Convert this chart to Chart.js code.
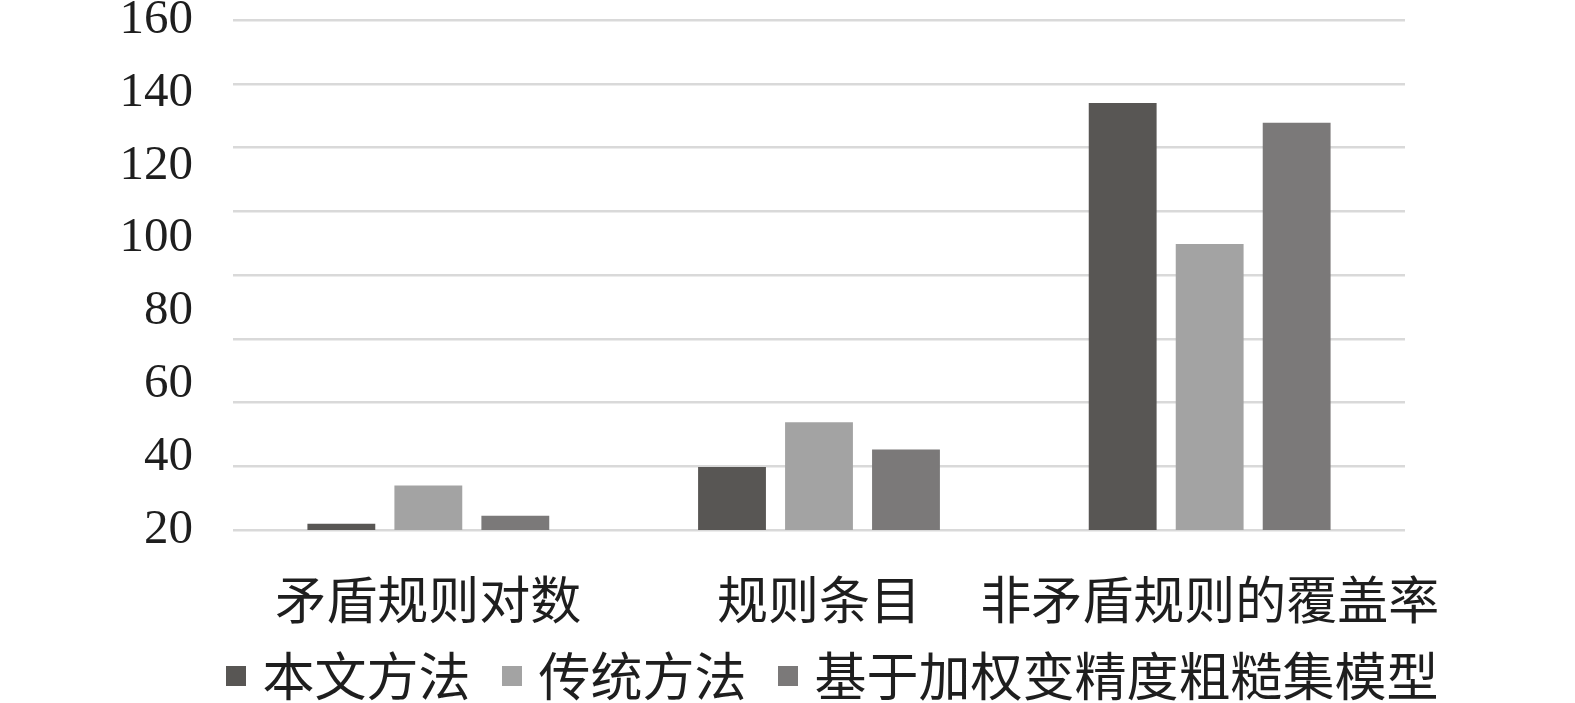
<!DOCTYPE html>
<html>
<head>
<meta charset="utf-8">
<script src="https://cdn.jsdelivr.net/npm/chart.js@4"></script>
<style>
  html, body { margin: 0; padding: 0; background: #ffffff; }
  #wrap { width: 1575px; height: 703px; }
</style>
</head>
<body>
<div id="wrap"><canvas id="chart" width="1575" height="703"></canvas></div>
<script>
const categories = ['矛盾规则对数', '规则条目', '非矛盾规则的覆盖率'];
const seriesNames = ['本文方法', '传统方法', '基于加权变精度粗糙集模型'];
const oursValues = [21.7, 37.3, 137.2];
const traditionalValues = [32.2, 49.6, 98.5];
const weightedValues = [23.9, 42.1, 131.8];
const yMin = 20;
const yMax = 160;
const yStep = 20;

const cjkFont = '"Noto Sans CJK SC", "Noto Sans", sans-serif';

const data = {
    labels: categories,
    datasets: [{
        label: seriesNames[0],
        data: oursValues,
        backgroundColor: '#585654',
    }, {
        label: seriesNames[1],
        data: traditionalValues,
        backgroundColor: '#a3a3a3',
    }, {
        label: seriesNames[2],
        data: weightedValues,
        backgroundColor: '#7b7979',
    }]
};

const config = {
    type: 'bar',
    data: data,
    options: {
        responsive: false,
        animation: false,
        categoryPercentage: 0.668,
        barPercentage: 0.78,
        layout: {
            padding: { left: 99, right: 0, top: 20, bottom: -9 }
        },
        scales: {
            x: {
                grid: { display: false, drawTicks: false },
                border: { display: false },
                ticks: {
                    autoSkip: false,
                    maxRotation: 0,
                    // mirrored with a negative padding so the labels sit below the axis
                    // without being clipped to the axis box
                    mirror: true,
                    padding: -100,
                    color: '#1e1e1e',
                    font: { family: cjkFont, size: 51 }
                },
                afterFit: (scale) => { scale.height = 79; }
            },
            y: {
                position: 'left',
                min: yMin,
                max: yMax,
                grid: { display: false, drawTicks: false },
                border: { display: false },
                ticks: {
                    stepSize: yStep,
                    color: '#1e1e1e',
                    // same trick: right-aligned labels ending 40px left of the plot
                    mirror: true,
                    crossAlign: 'far',
                    padding: -113.5,
                    font: { family: '"Liberation Serif", "Times New Roman", serif', size: 49 }
                },
                afterFit: (scale) => { scale.width = 134; }
            },
            yGrid: {
                position: 'right',
                min: 0,
                max: 160,
                grid: { color: '#d9d9d9', lineWidth: 2.5, drawTicks: false },
                border: { display: false },
                ticks: { display: false, stepSize: 20 },
                afterFit: (scale) => { scale.width = 170; }
            }
        },
        plugins: {
            legend: {
                position: 'bottom',
                labels: {
                    usePointStyle: true,
                    pointStyle: 'rect',
                    boxWidth: 1,
                    boxHeight: 20,
                    padding: 41,
                    color: '#1e1e1e',
                    font: { family: cjkFont, size: 52 }
                }
            },
            title: { display: false },
            tooltip: { enabled: false }
        }
    }
};

var myChart = new Chart(
    document.getElementById('chart').getContext('2d'),
    config
);
</script>
</body>
</html>
